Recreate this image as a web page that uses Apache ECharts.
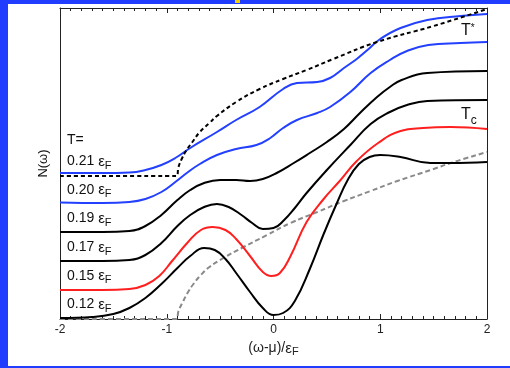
<!DOCTYPE html>
<html>
<head>
<meta charset="utf-8">
<script src="https://cdn.jsdelivr.net/npm/echarts@6/dist/echarts.min.js"></script>
<style>
  html, body { margin: 0; padding: 0; background: #fff; }
  #main { width: 510px; height: 368px; }
</style>
</head>
<body>
<div id="main"></div>
<script>
var tStarX = [-2, -1.5, -0.91, -0.89, -0.86, -0.82, -0.76, -0.69, -0.6, -0.53, -0.35, -0.13, 0.09, 0.31, 0.56, 0.97, 1.5, 2];
var tStarY = [143, 143, 143, 152, 160, 168, 177, 187, 196, 203, 217, 230, 240, 249, 260, 277, 293, 310];

var n21X = [-2, -1.6, -1.35, -1.2, -1.05, -0.92, -0.78, -0.53, -0.35, -0.13, 0.09, 0.22, 0.41, 0.53, 0.66, 0.78, 0.88, 1.0, 1.19, 1.44, 1.75, 2];
var n21Y = [146, 146, 146.5, 149, 154, 161, 171, 187, 199, 212, 230, 236, 237, 241, 251, 260, 269, 280, 291, 299, 303, 305];

var n20X = [-2, -1.6, -1.35, -1.2, -1.05, -0.92, -0.8, -0.69, -0.53, -0.35, -0.16, -0.03, 0.09, 0.22, 0.41, 0.53, 0.72, 0.91, 1.09, 1.25, 1.45, 1.75, 2];
var n20Y = [116.5, 116, 117, 120, 127, 137, 147, 155, 164, 170, 174, 181, 191, 199, 206, 212, 227, 246, 259, 268, 274, 276, 277];

var n19X = [-2, -1.6, -1.35, -1.2, -1.05, -0.9, -0.78, -0.65, -0.5, -0.35, -0.22, -0.1, 0.03, 0.19, 0.34, 0.5, 0.66, 0.81, 0.97, 1.09, 1.2, 1.44, 2];
var n19Y = [87, 87, 88, 93, 104, 119, 129, 136, 139, 139, 138, 140, 146, 156, 166, 177, 190, 206, 222, 232, 239, 246, 248];

var n17X = [-2, -1.6, -1.35, -1.2, -1.05, -0.9, -0.78, -0.65, -0.53, -0.42, -0.3, -0.2, -0.1, 0, 0.1, 0.2, 0.31, 0.5, 0.72, 0.91, 1.09, 1.25, 1.44, 2];
var n17Y = [58, 58, 59, 64, 76, 93, 104, 112, 115, 112, 104, 96, 90, 91, 99, 111, 126, 149, 174, 195, 207, 214, 218, 219];

var n15X = [-2, -1.6, -1.35, -1.2, -1.07, -0.95, -0.8, -0.68, -0.57, -0.45, -0.35, -0.22, -0.1, -0.02, 0.06, 0.16, 0.31, 0.47, 0.62, 0.78, 0.98, 1.19, 1.4, 1.66, 2];
var n15Y = [29, 29, 30, 34, 43, 58, 77, 89, 92, 89, 80, 63, 47, 43, 46, 63, 97, 120, 138, 158, 176, 188, 191, 192, 190];

var n12X = [-2, -1.7, -1.5, -1.35, -1.2, -1.05, -0.9, -0.78, -0.65, -0.55, -0.45, -0.35, -0.22, -0.1, 0, 0.09, 0.2, 0.34, 0.47, 0.59, 0.7, 0.8, 0.9, 1.0, 1.19, 1.47, 1.66, 2];
var n12Y = [1, 2, 5, 11, 21, 35, 51, 63, 71, 69, 60, 46, 27, 11, 4, 6, 18, 50, 85, 115, 140, 155, 162, 164, 162, 156, 156, 157];

var tcX = [-2, -0.91, -0.89, -0.85, -0.8, -0.75, -0.68, -0.6, -0.47, -0.28, -0.06, 0.16, 0.41, 0.66, 0.91, 1.16, 1.5, 1.66, 2];
var tcY = [0, 0, 8, 17, 27, 35, 44, 52, 61, 72, 84, 96, 107, 118, 128, 138, 150, 156, 167];

var tempLabels = ["0.21", "0.20", "0.19", "0.17", "0.15", "0.12"];
var xTicks = [-2, -1, 0, 1, 2];

var FONT = "Liberation Sans, Arial, sans-serif";
var BLUE = "#2340ff";

function pairs(xs, ys) {
  return xs.map(function (x, i) { return [x, ys[i]]; });
}

function curve(xs, ys, color, dash) {
  return {
    type: "line",
    data: pairs(xs, ys),
    showSymbol: false,
    smooth: 0.45,
    silent: true,
    lineStyle: { color: color, width: 2, type: dash || "solid" },
  };
}

var subRich = {
  a: { fontSize: 14, lineHeight: 16, verticalAlign: "top", fontFamily: FONT, fill: "#111" },
  e: { fontSize: 15, lineHeight: 16, verticalAlign: "top", fontFamily: FONT, fill: "#111" },
  s: { fontSize: 11, lineHeight: 12, padding: [6, 0, 0, 0], verticalAlign: "top", fontFamily: FONT, fill: "#111" },
};

// 温度标签
var labelGraphics = tempLabels.map(function (t, i) {
  return {
    type: "text",
    left: 67,
    top: 154 + i * 28.7,
    style: { text: "{a|" + t + " }{e|ε}{s|F}", rich: subRich, fill: "#111" },
  };
});

var chart = echarts.init(document.getElementById("main"), null, { renderer: "canvas" });

chart.setOption({
  animation: false,
  backgroundColor: "#fff",
  grid: { left: 60, right: 23, top: 8, bottom: 49, containLabel: false },
  xAxis: [
    {
      type: "value",
      min: xTicks[0],
      max: xTicks[xTicks.length - 1],
      interval: 1,
      position: "bottom",
      axisLine: { show: true, onZero: false, lineStyle: { color: "#222", width: 1 } },
      axisTick: { show: true, inside: true, length: 5, lineStyle: { color: "#222" } },
      minorTick: { show: true, splitNumber: 10, length: 3, lineStyle: { color: "#222" } },
      splitLine: { show: false },
      axisLabel: { fontSize: 12, color: "#222", margin: 5, fontFamily: FONT },
      name: "{a|(ω-μ)/}{e|ε}{s|F}",
      nameLocation: "middle",
      nameGap: 21,
      nameTextStyle: { rich: subRich },
    },
    {
      type: "value",
      min: xTicks[0],
      max: xTicks[xTicks.length - 1],
      interval: 1,
      position: "top",
      axisLine: { show: true, onZero: false, lineStyle: { color: "#222", width: 1 } },
      axisTick: { show: true, inside: true, length: 5, lineStyle: { color: "#222" } },
      minorTick: { show: true, splitNumber: 10, length: 3, lineStyle: { color: "#222" } },
      splitLine: { show: false },
      axisLabel: { show: false },
    },
  ],
  yAxis: [
    {
      type: "value",
      min: 0,
      max: 311,
      position: "left",
      axisLine: { show: true, onZero: false, lineStyle: { color: "#222", width: 1 } },
      axisTick: { show: false },
      axisLabel: { show: false },
      splitLine: { show: false },
      name: "N(ω)",
      nameLocation: "middle",
      nameGap: 10,
      nameRotate: 90,
      nameTextStyle: { fontSize: 13, color: "#111", fontFamily: FONT },
    },
    {
      type: "value",
      min: 0,
      max: 311,
      position: "right",
      axisLine: { show: true, onZero: false, lineStyle: { color: "#222", width: 1 } },
      axisTick: { show: false },
      axisLabel: { show: false },
      splitLine: { show: false },
    },
  ],
  series: [
    curve(tcX, tcY, "#8a8a8a", [5, 3]),
    curve(n12X, n12Y, "#000"),
    curve(n15X, n15Y, "#ff1f1f"),
    curve(n17X, n17Y, "#000"),
    curve(n19X, n19Y, "#000"),
    curve(n20X, n20Y, BLUE),
    curve(n21X, n21Y, BLUE),
    curve(tStarX, tStarY, "#000", [4, 3]),
  ],
  graphic: [
    // 蓝色幻灯片边框
    { type: "rect", shape: { x: 0, y: 0, width: 8, height: 368 }, style: { fill: "#1f3cff" }, z: 100 },
    { type: "rect", shape: { x: 0, y: 0, width: 510, height: 4 }, style: { fill: "#1f3cff" }, z: 100 },
    { type: "rect", shape: { x: 0, y: 366, width: 510, height: 2 }, style: { fill: "#1f3cff" }, z: 100 },
    { type: "rect", shape: { x: 235, y: 0, width: 5, height: 3 }, style: { fill: "#f5d000" }, z: 101 },
    {
      type: "text",
      left: 67,
      top: 133,
      style: { text: "T=", fontSize: 14, fontFamily: FONT, fill: "#111" },
    },
    {
      type: "text",
      left: 461,
      top: 23,
      style: {
        text: "{t|T}{u|*}",
        rich: {
          t: { fontSize: 16, lineHeight: 18, verticalAlign: "top", fontFamily: FONT, fill: "#111" },
          u: { fontSize: 10, lineHeight: 10, verticalAlign: "top", fontFamily: FONT, fill: "#111" },
        },
      },
    },
    {
      type: "text",
      left: 461,
      top: 107,
      style: {
        text: "{t|T}{s|c}",
        rich: {
          t: { fontSize: 16, lineHeight: 18, verticalAlign: "top", fontFamily: FONT, fill: "#111" },
          s: { fontSize: 12, lineHeight: 12, padding: [8, 0, 0, 0], verticalAlign: "top", fontFamily: FONT, fill: "#111" },
        },
      },
    },
  ].concat(labelGraphics),
});
</script>
</body>
</html>
